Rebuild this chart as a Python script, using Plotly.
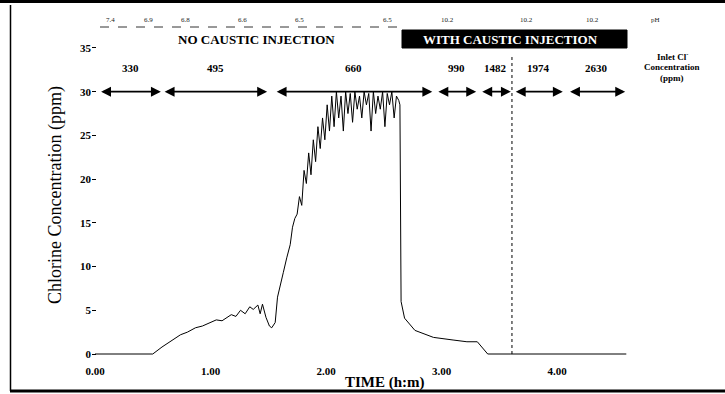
import plotly.graph_objects as go

# ---------------- data ----------------
time_h = [0.00, 0.50, 0.58, 0.66, 0.74, 0.80, 0.87, 0.93, 1.00, 1.05, 1.10, 1.14, 1.18, 1.22,
          1.26, 1.30, 1.34, 1.37, 1.41, 1.43, 1.45, 1.48, 1.51, 1.53, 1.56, 1.58, 1.61, 1.63,
          1.66, 1.69, 1.71, 1.73, 1.75, 1.77, 1.79, 1.81, 1.83, 1.85, 1.87, 1.89, 1.91, 1.93,
          1.95, 1.97, 1.99, 2.01, 2.03, 2.05, 2.07, 2.09, 2.11, 2.13, 2.15, 2.17, 2.19, 2.21,
          2.23, 2.25, 2.27, 2.29, 2.31, 2.33, 2.35, 2.37, 2.39, 2.41, 2.43, 2.45, 2.47, 2.49,
          2.51, 2.53, 2.55, 2.57, 2.59, 2.61, 2.63, 2.64, 2.65, 2.68, 2.77, 2.93, 3.10, 3.22,
          3.31, 3.40, 3.60, 4.60]
chlorine_ppm = [0.0, 0.0, 0.8, 1.5, 2.2, 2.5, 3.0, 3.2, 3.6, 3.9, 3.8, 4.2, 4.5, 4.3,
                5.0, 4.6, 5.4, 5.1, 5.6, 4.6, 5.7, 4.2, 3.2, 3.0, 3.6, 6.5, 8.0, 9.3,
                11.0, 12.5, 14.5, 15.5, 16.0, 18.0, 17.0, 21.0, 19.5, 23.0, 20.5, 24.5, 22.0, 26.0,
                23.5, 27.0, 24.5, 28.5, 25.5, 29.5, 26.0, 30.0, 27.0, 29.5, 25.5, 30.0, 27.5, 29.8,
                26.5, 30.0, 28.0, 29.5, 27.0, 30.0, 28.5, 29.8, 25.5, 30.0, 27.5, 29.5, 28.0, 30.0,
                26.0, 29.8, 28.5, 30.0, 27.0, 29.5, 29.0, 28.5, 6.0, 4.1, 2.7, 1.9, 1.6, 1.4,
                1.4, 0.0, 0.0, 0.0]

inlet_cl_ppm = ["330", "495", "660", "990", "1482", "1974", "2630"]
period_start_h = [0.04, 0.59, 1.56, 2.96, 3.34, 3.63, 4.10]
period_end_h = [0.57, 1.49, 2.92, 3.30, 3.60, 4.05, 4.59]

ph_values = ["7.4", "6.9", "6.8", "6.6", "6.5", "6.5", "10.2", "10.2", "10.2", "pH"]
ph_time_h = [0.13, 0.46, 0.78, 1.28, 1.77, 2.53, 3.05, 3.74, 4.31, 4.85]

x_tickvals = [0, 1, 2, 3, 4]
x_ticktext = ["0.00", "1.00", "2.00", "3.00", "4.00"]
y_tickvals = [0, 5, 10, 15, 20, 25, 30, 35]
y_ticktext = ["0", "5", "10", "15", "20", "25", "30", "35"]

caustic_start_h = 3.61

# ---------------- layout helpers ----------------
W, H = 725, 394
L, R, T, B = 92, 700, 10, 363

def pxx(px):
    return (px - L) / (R - L)

def pyy(py):
    return (B - py) / (B - T)

SERIF = "Liberation Serif"
C = dict(xanchor="center", yanchor="middle", showarrow=False)

fig = go.Figure()
fig.add_trace(go.Scatter(x=time_h, y=chlorine_ppm, mode="lines",
                         line=dict(color="black", width=1), showlegend=False,
                         hoverinfo="skip"))

annotations = []
# double-headed arrows for inlet Cl periods
for lab, s, e in zip(inlet_cl_ppm, period_start_h, period_end_h):
    annotations.append(dict(x=e, y=30, ax=s, ay=30, xref="x", yref="y", axref="x", ayref="y",
                            text="", showarrow=True, arrowhead=2, arrowside="end+start",
                            arrowsize=1.1, arrowwidth=1.8, arrowcolor="black"))
    annotations.append(dict(x=(s + e) / 2, y=32.7, xref="x", yref="y", text=lab, **C,
                            font=dict(family=SERIF, size=11, color="black", weight="bold")))
# pH values row
for lab, t in zip(ph_values, ph_time_h):
    annotations.append(dict(x=t, y=pyy(20), xref="x", yref="paper", text=lab, **C,
                            font=dict(family=SERIF, size=7, color="#222222")))

annotations += [
    dict(x=pxx(256), y=pyy(39), xref="paper", yref="paper", text="NO CAUSTIC INJECTION", **C,
         font=dict(family=SERIF, size=13, color="black", weight="bold")),
    dict(x=pxx(510), y=pyy(39), xref="paper", yref="paper", text="WITH CAUSTIC INJECTION", **C,
         font=dict(family=SERIF, size=13, color="white", weight="bold")),
    dict(x=pxx(672), y=pyy(56), xref="paper", yref="paper", text="Inlet Cl<sup>-</sup>", **C,
         font=dict(family=SERIF, size=9, color="black", weight="bold")),
    dict(x=pxx(672), y=pyy(67), xref="paper", yref="paper", text="Concentration", **C,
         font=dict(family=SERIF, size=9, color="black", weight="bold")),
    dict(x=pxx(672), y=pyy(78), xref="paper", yref="paper", text="(ppm)", **C,
         font=dict(family=SERIF, size=9, color="black", weight="bold")),
    dict(x=pxx(55), y=pyy(195), xref="paper", yref="paper",
         text="Chlorine Concentration (ppm)", textangle=-90, **C,
         font=dict(family=SERIF, size=18, color="black")),
    dict(x=pxx(385), y=pyy(382), xref="paper", yref="paper", text="TIME (h:m)", **C,
         font=dict(family=SERIF, size=15, color="black", weight="bold")),
]

shapes = [
    # caustic box
    dict(type="rect", xref="paper", yref="paper", x0=pxx(402), x1=pxx(627),
         y0=pyy(48), y1=pyy(30), fillcolor="black", line=dict(color="black", width=1),
         layer="below"),
    # underline of pH row
    dict(type="line", xref="paper", yref="paper", x0=pxx(100), x1=pxx(402),
         y0=pyy(27), y1=pyy(27), line=dict(color="#333333", width=1, dash="dash")),
    # vertical dotted line at caustic start
    dict(type="line", xref="x", yref="y", x0=caustic_start_h, x1=caustic_start_h,
         y0=0, y1=34.2, line=dict(color="black", width=1, dash="dot")),
    # frame
    dict(type="line", xref="paper", yref="paper", x0=pxx(0), x1=pxx(725), y0=pyy(1.5),
         y1=pyy(1.5), line=dict(color="black", width=3)),
    dict(type="line", xref="paper", yref="paper", x0=pxx(10), x1=pxx(725), y0=pyy(391),
         y1=pyy(391), line=dict(color="black", width=3)),
    dict(type="line", xref="paper", yref="paper", x0=pxx(10.5), x1=pxx(10.5), y0=pyy(5),
         y1=pyy(391), line=dict(color="black", width=1.5)),
]

fig.update_layout(
    width=W, height=H,
    margin=dict(l=L, r=W - R, t=T, b=H - B),
    paper_bgcolor="white", plot_bgcolor="white",
    showlegend=False,
    annotations=annotations,
    shapes=shapes,
    xaxis=dict(range=[-0.026, 5.238], tickvals=x_tickvals, ticktext=x_ticktext,
               showgrid=False, zeroline=False, showline=False, ticks="",
               tickfont=dict(family=SERIF, size=11, color="black", weight="bold")),
    yaxis=dict(range=[-1.029, 39.345], tickvals=y_tickvals, ticktext=y_ticktext,
               showgrid=False, zeroline=False, showline=False, ticks="inside", ticklen=4,
               tickcolor="black",
               tickfont=dict(family=SERIF, size=11, color="black", weight="bold")),
)

fig.write_html("out.html")
